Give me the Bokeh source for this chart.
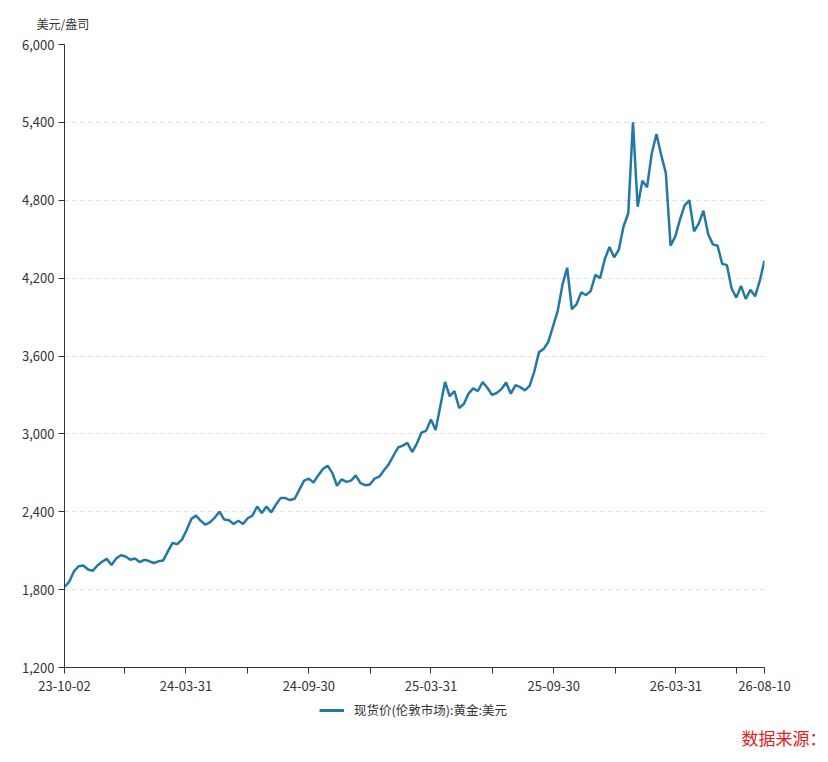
from datetime import datetime

import pandas as pd

from bokeh.embed import file_html
from bokeh.layouts import column
from bokeh.models import (ColumnDataSource, DatetimeTickFormatter, FixedTicker, Label,
                          Legend, LegendItem, NumeralTickFormatter, Range1d, Title)
from bokeh.plotting import figure
from bokeh.resources import INLINE

# weekly closes, London spot gold (USD/oz)
start_date = "2023-10-02"
end_date = "2026-08-10"
gold_usd = [
    1820, 1860, 1940, 1980, 1986, 1955, 1945, 1986, 2015, 2037,
    1990, 2040, 2065, 2055, 2030, 2040, 2012, 2030, 2020, 2005,
    2018, 2025, 2095, 2160, 2150, 2185, 2260, 2345, 2370, 2330,
    2300, 2320, 2355, 2400, 2340, 2335, 2305, 2330, 2305, 2350,
    2370, 2440, 2390, 2440, 2395, 2455, 2505, 2505, 2490, 2500,
    2570, 2640, 2655, 2625, 2680, 2730, 2755, 2700, 2600, 2650,
    2630, 2640, 2680, 2620, 2605, 2610, 2655, 2670, 2720, 2765,
    2830, 2895, 2910, 2930, 2860, 2925, 3010, 3025, 3110, 3030,
    3215, 3400, 3290, 3330, 3200, 3230, 3310, 3350, 3330, 3400,
    3355, 3300, 3315, 3345, 3395, 3310, 3375, 3360, 3335, 3370,
    3480, 3630, 3655, 3710, 3830, 3950, 4150, 4280, 3960, 4000,
    4090, 4070, 4100, 4225, 4200, 4345, 4440, 4360, 4420, 4600,
    4700, 5400, 4750, 4950, 4900, 5160, 5310, 5150, 5010, 4450,
    4520, 4650, 4760, 4800, 4560, 4620, 4720, 4540, 4460, 4450,
    4310, 4300, 4120, 4050, 4140, 4040, 4110, 4060, 4180, 4335,
]
labeled_dates = ["2023-10-02", "2024-03-31", "2024-09-30", "2025-03-31",
                 "2025-09-30", "2026-03-31", "2026-08-10"]
unlabeled_dates = ["2023-12-31", "2024-06-30", "2024-12-31", "2025-06-30",
                   "2025-12-31", "2026-06-30"]
y_ticks = [1200, 1800, 2400, 3000, 3600, 4200, 4800, 5400, 6000]
series_name = "现货价(伦敦市场):黄金:美元"
source_text = "数据来源：Wind"
LINE_COLOR = "#217aa6"

dates = pd.date_range(start_date, end_date, freq="7D")
src = ColumnDataSource(data=dict(date=dates, price=gold_usd))

FONT = "Noto Sans CJK SC"


def ms(d):
    return pd.Timestamp(d).timestamp() * 1000


p = figure(frame_width=700, frame_height=623, x_axis_type="datetime",
           output_backend="svg", toolbar_location=None,
           x_range=Range1d(datetime(2023, 10, 2), datetime(2026, 8, 10)),
           y_range=Range1d(1200, 6000),
           min_border_left=64, min_border_right=56,
           min_border_top=44, min_border_bottom=31)
p.outline_line_color = None
p.background_fill_color = "white"
p.border_fill_color = "white"

line = p.line("date", "price", source=src, line_color=LINE_COLOR, line_width=2.5)

# axes
p.xaxis.ticker = FixedTicker(ticks=[ms(d) for d in labeled_dates],
                             minor_ticks=[ms(d) for d in unlabeled_dates])
fmt = "%y-%m-%d"
p.xaxis.formatter = DatetimeTickFormatter(
    milliseconds=fmt, seconds=fmt, minsec=fmt, minutes=fmt, hourmin=fmt,
    hours=fmt, days=fmt, months=fmt, years=fmt)
p.yaxis.ticker = FixedTicker(ticks=y_ticks)
p.yaxis.formatter = NumeralTickFormatter(format="0,0")

for ax in (p.xaxis, p.yaxis):
    ax.axis_line_color = "#333333"
    ax.axis_line_width = 1
    ax.major_tick_line_color = "#333333"
    ax.major_tick_out = 6
    ax.major_tick_in = 0
    ax.major_label_text_font = FONT
    ax.major_label_text_font_size = "13px"
    ax.major_label_text_color = "#333333"
    ax.major_label_standoff = 4
p.xaxis.major_label_standoff = 7
p.xaxis.minor_tick_line_color = "#333333"
p.xaxis.minor_tick_out = 6
p.xaxis.minor_tick_in = 0
p.yaxis.minor_tick_line_color = None

p.xgrid.grid_line_color = None
p.ygrid.grid_line_color = "#dddddd"
p.ygrid.grid_line_dash = "4 4"

# unit label
unit = Title(text="美元/盎司", align="left", offset=-28, text_font=FONT,
             text_font_size="12px", text_font_style="normal",
             text_color="#333333", standoff=25)
p.add_layout(unit, "above")

# footer: legend and source note
foot = figure(frame_width=820, frame_height=56, output_backend="svg",
              toolbar_location=None, x_range=Range1d(0, 1), y_range=Range1d(0, 1),
              min_border=0)
foot.axis.visible = False
foot.grid.grid_line_color = None
foot.outline_line_color = None
proxy = foot.line(x=[float("nan")], y=[float("nan")], line_color=LINE_COLOR, line_width=3)

legend = Legend(items=[LegendItem(label=series_name, renderers=[proxy])],
                location=(319, 35), orientation="horizontal",
                border_line_color=None, background_fill_alpha=0,
                label_text_font=FONT, label_text_font_size="12.5px",
                label_text_color="#333333", glyph_width=25, glyph_height=12,
                label_standoff=10, padding=4, margin=0)
foot.add_layout(legend)

note = Label(x=677, y=17, x_units="screen", y_units="screen", text=source_text,
             text_align="left", text_baseline="middle", text_font=FONT,
             text_font_size="17px", text_color="#e02020")
foot.add_layout(note)

layout = column(p, foot, spacing=0)
open("out.html", "w").write(file_html(layout, INLINE))
